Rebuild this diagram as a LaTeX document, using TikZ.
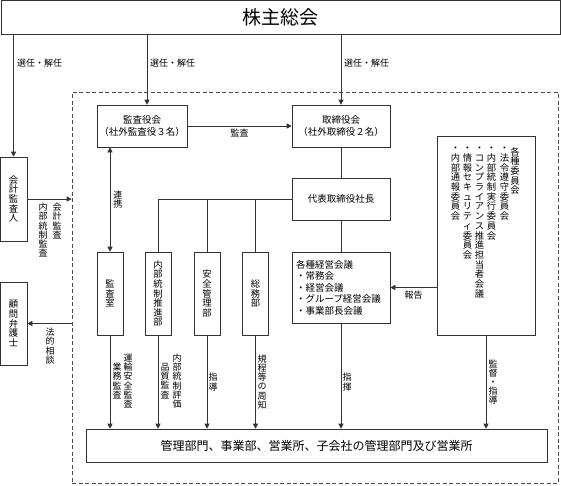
\documentclass[tikz,border=0pt]{standalone}
\usepackage{fontspec}
\setmainfont{Noto Sans CJK JP}
\usetikzlibrary{arrows.meta}

% vertical (tategaki) text: one character per line
\let\tateend\relax
\newcommand\tate[1]{\edef\tatebuf{#1}\vbox{\lineskiplimit=-\maxdimen\expandafter\tateloop\tatebuf\tateend}}
\def\tateloop#1{\ifx#1\tateend\else\hbox to 1em{\hss#1\hss}\expandafter\tateloop\fi}

\tikzset{
  box/.style={draw=black!80, line width=.6pt, inner sep=2pt, align=center,
    font=\fontsize{9.5}{11.5}\selectfont},
  tatebox/.style={box, minimum width=26pt, minimum height=83pt,
    font=\fontsize{9.3}{9.6}\selectfont},
  tatecol/.style={inner sep=0pt, font=\fontsize{9.3}{9.7}\selectfont},
  lab/.style={inner sep=0pt, font=\fontsize{9}{9.2}\selectfont},
  link/.style={draw=black!80, line width=.6pt},
  arr/.style={link, ->},
  >={Triangle[length=5pt,width=5pt]}
}

\begin{document}
\begin{tikzpicture}[x=1pt, y=-1pt]
  \useasboundingbox (0,0) rectangle (561,485);
  % shareholders
  \node[box, minimum width=559pt, minimum height=34pt, font=\fontsize{19}{22}\selectfont] (soukai) at (280.5,17.5) {株主総会};
  % company frame
  \node[draw=black!70, line width=.6pt, dash pattern=on 4pt off 2.5pt, minimum width=486pt, minimum height=391pt] (shanai) at (315,287.5) {};

  \node[box, minimum width=90pt, minimum height=42pt] (kansayaku) at (142,126) {監査役会\\（社外監査役３名）};
  \node[box, minimum width=98pt, minimum height=42pt] (torishimari) at (341,126) {取締役会\\（社外取締役２名）};
  \node[box, minimum width=98pt, minimum height=42pt] (shacho) at (341,199) {代表取締役社長};
  \node[box, minimum width=98pt, minimum height=71pt, align=left, text width=90pt] (keiei) at (341,287.5)
    {各種経営会議\\・常務会\\・経営会議\\・グループ経営会議\\・事業部長会議};

  % committees
  \node[box, minimum width=98pt, minimum height=199pt] (iinkai) at (486,235.5) {};
  \foreach \x/\txt [count=\i] in {515/各種委員会,504.5/・法令遵守委員会,491.5/・内部統制実行委員会,
      479.5/・コンプライアンス推進担当者会議,467.5/・情報セキュリティ委員会,455.5/・内部通報委員会}
    \node[tatecol, anchor=north] (iin\i) at (\x,147) {\tate{\txt}};

  \node[tatebox] (kansashitsu) at (110,293.5) {\tate{監査室}};
  \node[tatebox] (naibu) at (158,293.5) {\tate{内部統制推進部}};
  \node[tatebox] (anzen) at (207,293.5) {\tate{安全管理部}};
  \node[tatebox] (somu) at (255.5,293.5) {\tate{総務部}};
  \node[tatebox, minimum width=27pt, minimum height=84pt] (kaikei) at (13.5,199) {\tate{会計監査人}};
  \node[tatebox, minimum width=27pt] (komon) at (13.5,323.5) {\tate{顧問弁護士}};

  \node[box, minimum width=461pt, minimum height=33pt, font=\fontsize{12}{14}\selectfont] (kanri) at (316.5,445.5)
    {管理部門、事業部、営業所、子会社の管理部門及び営業所};

  % appointment
  \draw[arr] (soukai.south -| kaikei.north) -- (kaikei.north);
  \draw[arr] ([xshift=5pt]soukai.south -| kansayaku.north) -- ([xshift=5pt]kansayaku.north);
  \draw[arr] (soukai.south -| torishimari.north) -- (torishimari.north);
  \node[lab, anchor=west] (sennin1) at (17,63) {選任・解任};
  \node[lab, anchor=west] (sennin2) at (150,63) {選任・解任};
  \node[lab, anchor=west] (sennin3) at (344,63) {選任・解任};

  \draw[arr] (kansayaku) -- (torishimari) node[lab, midway, below=3pt] (kansa) {監査};
  \draw[link] (torishimari) -- (shacho);
  \draw[link] (shacho) -- (keiei);
  \draw[link] (shacho.west) -| (naibu.north);
  \draw[link] (shacho.west -| anzen.north) -- (anzen.north);
  \draw[link] (shacho.west -| somu.north) -- (somu.north);
  \draw[link, <->] (kansayaku.south -| kansashitsu.north) -- (kansashitsu.north)
    node[lab, midway, right=3pt] (renkei) {\tate{連携}};

  % outside
  \draw[arr] (kaikei.east) -- (kaikei.east -| shanai.west);
  \node[lab, anchor=north] (kaikeilab1) at (57,203) {\tate{会計監査}};
  \node[lab, anchor=north] (kaikeilab2) at (43,203) {\tate{内部統制監査}};
  \draw[arr] (komon.east -| shanai.west) -- (komon.east);
  \node[lab, anchor=north] (houteki) at (50,328) {\tate{法的相談}};

  % down to the departments
  \draw[arr] (kansashitsu) -- (kansashitsu |- kanri.north);
  \draw[arr] (naibu) -- (naibu |- kanri.north);
  \draw[arr] (anzen) -- (anzen |- kanri.north);
  \draw[arr] (somu) -- (somu |- kanri.north);
  \draw[arr] (keiei) -- (keiei |- kanri.north);
  \draw[arr] (iinkai) -- (iinkai |- kanri.north);
  \node[lab] (unyu) at (128,381) {\tate{運輸安全監査}};
  \node[lab] (gyomu) at (117,381) {\tate{業務監査}};
  \node[lab] (hyoka) at (177,381) {\tate{内部統制評価}};
  \node[lab] (hinshitsu) at (165,381) {\tate{品質監査}};
  \node[lab] (shido) at (213,382) {\tate{指導}};
  \node[lab] (kitei) at (262,382) {\tate{規程等の周知}};
  \node[lab] (shiki) at (347,382) {\tate{指揮}};
  \node[lab] (kantoku) at (493,382) {\tate{監督・指導}};
  \draw[arr] (keiei.east -| iinkai.west) -- (keiei.east) node[lab, midway, below=3pt] (houkoku) {報告};
\end{tikzpicture}
\end{document}
